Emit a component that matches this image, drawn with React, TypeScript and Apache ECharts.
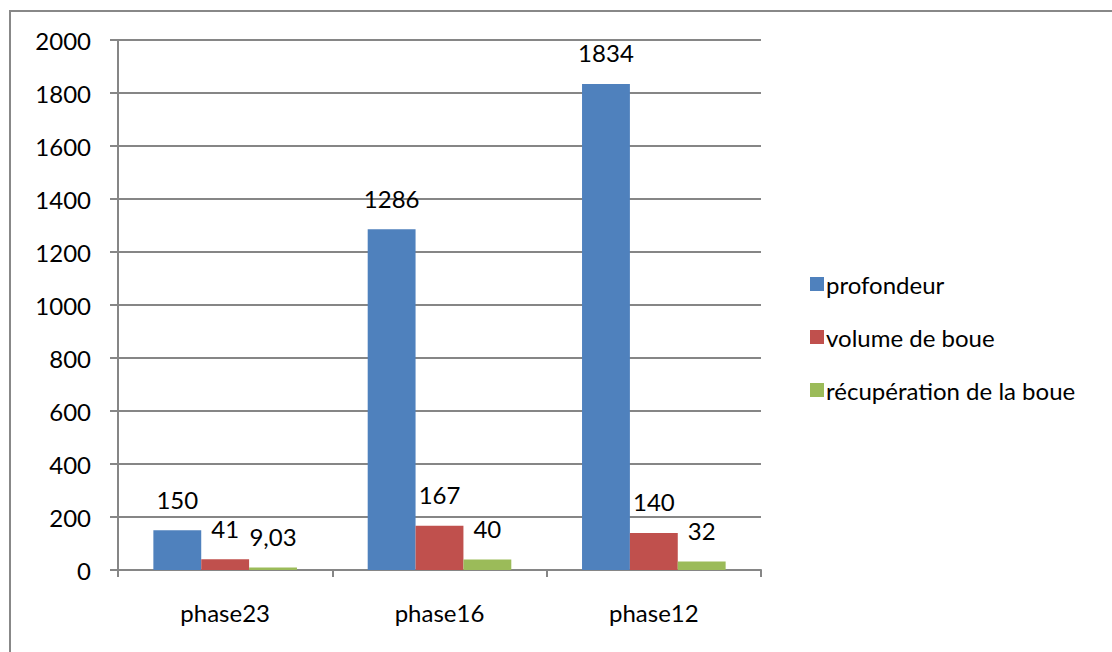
import React, { useEffect, useRef } from "react";
import * as echarts from "echarts";

const categories = ["phase23", "phase16", "phase12"];
const profondeur = [150, 1286, 1834];
const volumeBoue = [41, 167, 140];
const recuperation = [9.03, 40, 32];
const seriesNames = ["profondeur", "volume de boue", "récupération de la boue"];

const FONT = "Lato";
const FS = 24;

export default function App() {
  const ref = useRef<HTMLDivElement>(null);
  useEffect(() => {
    if (!ref.current) return;
    const chart = echarts.init(ref.current, undefined, { renderer: "svg" });
    const label = {
      show: true,
      position: "top",
      distance: 19,
      color: "#000",
      fontFamily: FONT,
      fontSize: FS,
      formatter: (p: any) => String(p.value).replace(".", ","),
    };
    const colors = ["#4F81BD", "#C0504D", "#9BBB59"];
    const data = [profondeur, volumeBoue, recuperation];
    chart.setOption({
      animation: false,
      backgroundColor: "#fff",
      textStyle: { fontFamily: FONT },
      graphic: [
        {
          type: "rect",
          shape: { x: 10, y: 11, width: 1200, height: 800 },
          style: { fill: "none", stroke: "#888", lineWidth: 2 },
          silent: true,
        },
      ],
      grid: { left: 118, right: 351, top: 40, bottom: 82, containLabel: false },
      legend: {
        orient: "vertical",
        left: 805,
        top: 267,
        itemWidth: 14,
        itemHeight: 14,
        itemGap: 29,
        icon: "rect",
        data: seriesNames,
        textStyle: { fontFamily: FONT, fontSize: FS, color: "#000", padding: [0, 0, 0, -3] },
      },
      xAxis: {
        type: "category",
        data: categories,
        axisLine: { show: true, lineStyle: { color: "#868686", width: 2 } },
        axisTick: { show: true, length: 7, lineStyle: { color: "#868686", width: 2 } },
        axisLabel: { color: "#000", fontFamily: FONT, fontSize: FS, margin: 30 },
      },
      yAxis: {
        type: "value",
        min: 0,
        max: 2000,
        interval: 200,
        axisLine: { show: true, lineStyle: { color: "#868686", width: 2 } },
        axisTick: { show: true, length: 8, lineStyle: { color: "#868686", width: 2 } },
        splitLine: { show: true, lineStyle: { color: "#868686", width: 2 } },
        axisLabel: {
          color: "#000",
          fontFamily: FONT,
          fontSize: FS,
          margin: 27,
          formatter: (v: number) => String(v),
        },
      },
      series: seriesNames.map((name, i) => ({
        name,
        type: "bar",
        data: data[i],
        barGap: "0%",
        barCategoryGap: "33%",
        itemStyle: { color: colors[i] },
        label,
      })),
    });
    return () => chart.dispose();
  }, []);
  return (
    <div
      ref={ref}
      style={{ position: "fixed", left: 0, top: 0, width: 1112, height: 652 }}
    />
  );
}
